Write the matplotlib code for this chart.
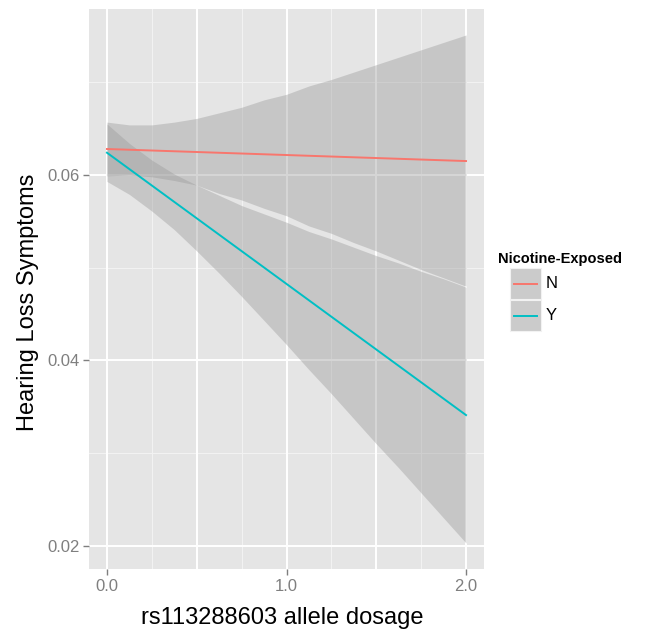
import matplotlib
matplotlib.use("Agg")
import matplotlib.pyplot as plt
from matplotlib.patches import Rectangle
from matplotlib.lines import Line2D

plt.rcParams['font.family'] = ['Liberation Sans', 'DejaVu Sans']

# ---- data ----
groups = ["N", "Y"]
colors = {"N": "#F8766D", "Y": "#00BFC4"}
dosage = [0.0, 0.125, 0.25, 0.375, 0.5, 0.625, 0.75, 0.875, 1.0,
          1.125, 1.25, 1.375, 1.5, 1.625, 1.75, 1.875, 2.0]
fit_x = [0.0, 2.0]
fit_N = [0.0628, 0.0615]
fit_Y = [0.0624, 0.0341]
hi_N = [0.0657, 0.0654, 0.0654, 0.0657, 0.0661, 0.0667, 0.0673, 0.0681, 0.0687,
        0.0696, 0.0703, 0.0711, 0.0719, 0.0727, 0.0735, 0.0743, 0.0751]
lo_N = [0.0599, 0.0600, 0.0598, 0.0594, 0.0589, 0.0580, 0.0573, 0.0564, 0.0556,
        0.0545, 0.0537, 0.0527, 0.0518, 0.0508, 0.0498, 0.0489, 0.0480]
hi_Y = [0.0655, 0.0634, 0.0616, 0.0601, 0.0589, 0.0578, 0.0567, 0.0558, 0.0549,
        0.0539, 0.0531, 0.0522, 0.0513, 0.0505, 0.0496, 0.0488, 0.0479]
lo_Y = [0.0593, 0.0579, 0.0561, 0.0541, 0.0518, 0.0494, 0.0469, 0.0443, 0.0417,
        0.0390, 0.0364, 0.0337, 0.0310, 0.0284, 0.0257, 0.0230, 0.0203]
xticks = [0.0, 1.0, 2.0]
xticklabels = ["0.0", "1.0", "2.0"]
yticks = [0.02, 0.04, 0.06]
yticklabels = ["0.02", "0.04", "0.06"]
x_major_grid = [0.0, 0.5, 1.0, 1.5, 2.0]
x_minor_grid = [0.25, 0.75, 1.25, 1.75]
y_minor_grid = [0.03, 0.05, 0.07]

W, H = 651, 631
fig = plt.figure(figsize=(W / 100, H / 100), dpi=100)
fig.patch.set_facecolor("white")
ax = fig.add_axes([89 / W, (H - 569) / H, 395 / W, 560 / H])
ax.set_facecolor("#E5E5E5")
for s in ax.spines.values():
    s.set_visible(False)

ax.set_xlim(-0.1, 2.1)
ax.set_ylim(0.0175, 0.0779)

# grid
for gx in x_minor_grid:
    ax.axvline(gx, color="#F2F2F2", lw=0.8, zorder=0.5)
for gy in y_minor_grid:
    ax.axhline(gy, color="#F2F2F2", lw=0.8, zorder=0.5)
for gx in x_major_grid:
    ax.axvline(gx, color="white", lw=1.4, zorder=0.6)
for gy in yticks:
    ax.axhline(gy, color="white", lw=1.4, zorder=0.6)

# ribbons
ax.fill_between(dosage, lo_N, hi_N, color="#999999", alpha=0.4, lw=0, zorder=2)
ax.fill_between(dosage, lo_Y, hi_Y, color="#999999", alpha=0.4, lw=0, zorder=2)
# fitted lines
ax.plot(fit_x, fit_N, color=colors["N"], lw=1.4, zorder=3)
ax.plot(fit_x, fit_Y, color=colors["Y"], lw=1.4, zorder=3)

ax.set_xticks(xticks)
ax.set_xticklabels(xticklabels)
ax.set_yticks(yticks)
ax.set_yticklabels(yticklabels)
ax.tick_params(axis="both", length=4, width=1, color="#7F7F7F",
               labelcolor="#7F7F7F", labelsize=12, pad=3)

ax.set_xlabel("rs113288603 allele dosage", fontsize=17)
ax.xaxis.set_label_coords(0.49, (569 - 618) / 560)
ax.xaxis.label.set_va("center")
ax.set_ylabel("Hearing Loss Symptoms", fontsize=17)
ax.yaxis.set_label_coords((28 - 89) / 395, 1 - (302 - 9) / 560)
ax.yaxis.label.set_va("center")

# legend (manual)
fig.text(498 / W, 1 - 259 / H, "Nicotine-Exposed", fontsize=10.5,
         fontweight="bold", va="center", ha="left")
for i, g in enumerate(groups):
    top = 268 + i * 32
    fig.patches.append(Rectangle((510 / W, 1 - (top + 31) / H), 31 / W, 31 / H,
                                 transform=fig.transFigure, facecolor="#CBCBCB",
                                 edgecolor="#F2F2F2", lw=0.8))
    cy = 1 - (top + 15.5) / H
    fig.lines.append(Line2D([514 / W, 537 / W], [cy, cy], transform=fig.transFigure,
                            color=colors[g], lw=1.4))
    fig.text(546 / W, cy, g, fontsize=12, va="center", ha="left")

fig.savefig("out.png", dpi=100)
